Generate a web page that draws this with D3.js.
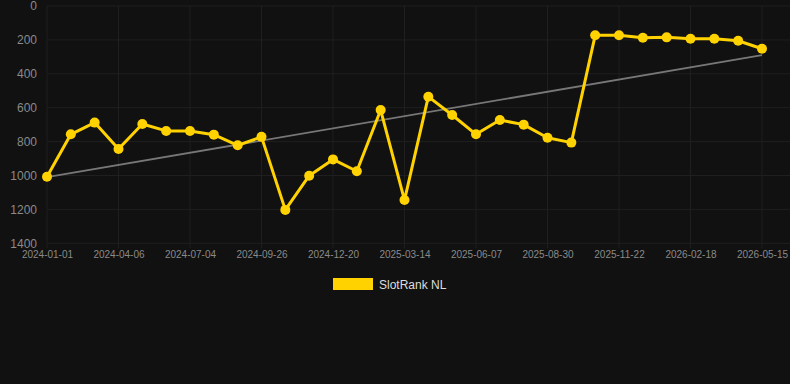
<!DOCTYPE html>
<html><head><meta charset="utf-8">
<script src="https://cdn.jsdelivr.net/npm/d3@7"></script>
<style>html,body{margin:0;padding:0;background:#111111;}svg{display:block;}</style>
</head><body>
<svg id="chart" width="790" height="384"></svg>
<script>
const dates = ["2024-01-01","2024-02-02","2024-03-05","2024-04-06","2024-05-06","2024-06-04","2024-07-04","2024-08-01","2024-08-29","2024-09-26","2024-10-24","2024-11-22","2024-12-20","2025-01-17","2025-02-14","2025-03-14","2025-04-11","2025-05-10","2025-06-07","2025-07-05","2025-08-02","2025-08-30","2025-09-27","2025-10-25","2025-11-22","2025-12-21","2026-01-20","2026-02-18","2026-03-18","2026-04-16","2026-05-15"];
const ranks = [1007,757,688,844,696,737,737,759,822,772,1203,1001,905,975,614,1145,535,643,757,673,700,777,806,173,173,187,185,193,193,205,252];
const trendEnds = [1010, 290];
const yTicks = [0,200,400,600,800,1000,1200,1400];
const seriesName = "SlotRank NL";

const svg = d3.select("#chart");
const x = d3.scalePoint().domain(dates).range([47, 762]);
const y = d3.scaleLinear().domain([0, 1400]).range([6, 243.3]);
const font = "Helvetica, Arial, sans-serif";

// grid
const g = svg.append("g");
g.selectAll("line.h").data(yTicks).join("line")
  .attr("x1", 47).attr("x2", 790)
  .attr("y1", d => y(d)).attr("y2", d => y(d))
  .attr("stroke", "#1f1f1f").attr("stroke-width", 1);
const labelDates = dates.filter((d, i) => i % 3 === 0);
g.selectAll("line.v").data(labelDates).join("line")
  .attr("x1", d => x(d)).attr("x2", d => x(d))
  .attr("y1", y(0)).attr("y2", y(1400) + 5)
  .attr("stroke", "#1f1f1f").attr("stroke-width", 1);

// y axis labels
const yAxis = d3.axisLeft(y).tickValues(yTicks).tickFormat(d3.format("d")).tickSize(0).tickPadding(0);
svg.append("g").attr("transform", "translate(37,0)").call(yAxis)
  .call(s => s.select(".domain").remove())
  .selectAll("text").attr("fill", "#8a8a8a").attr("font-size", "12px").attr("font-family", font);

// x axis labels
const xAxis = d3.axisBottom(x).tickValues(labelDates).tickSize(0).tickPadding(0);
svg.append("g").attr("transform", "translate(0,251)").call(xAxis)
  .call(s => s.select(".domain").remove())
  .selectAll("text").attr("fill", "#8a8a8a").attr("font-size", "10px").attr("font-family", font);

// trend line
svg.append("line")
  .attr("x1", x(dates[0])).attr("y1", y(trendEnds[0]))
  .attr("x2", x(dates[dates.length - 1])).attr("y2", y(trendEnds[1]))
  .attr("stroke", "#777777").attr("stroke-width", 1.8);

// series line
const data = dates.map((d, i) => ({d, v: ranks[i]}));
const yellow = "#FFD200";
svg.append("path").datum(data)
  .attr("fill", "none").attr("stroke", yellow).attr("stroke-width", 3)
  .attr("stroke-linejoin", "round")
  .attr("d", d3.line().x(p => x(p.d)).y(p => y(p.v)));
svg.selectAll("circle.pt").data(data).join("circle")
  .attr("cx", p => x(p.d)).attr("cy", p => y(p.v)).attr("r", 5)
  .attr("fill", yellow);

// legend
svg.append("rect").attr("x", 333).attr("y", 278).attr("width", 40).attr("height", 12).attr("fill", yellow);
svg.append("text").attr("x", 379).attr("y", 288.5).text(seriesName)
  .attr("fill", "#dddddd").attr("font-size", "12px").attr("font-family", font);
</script>
</body></html>
